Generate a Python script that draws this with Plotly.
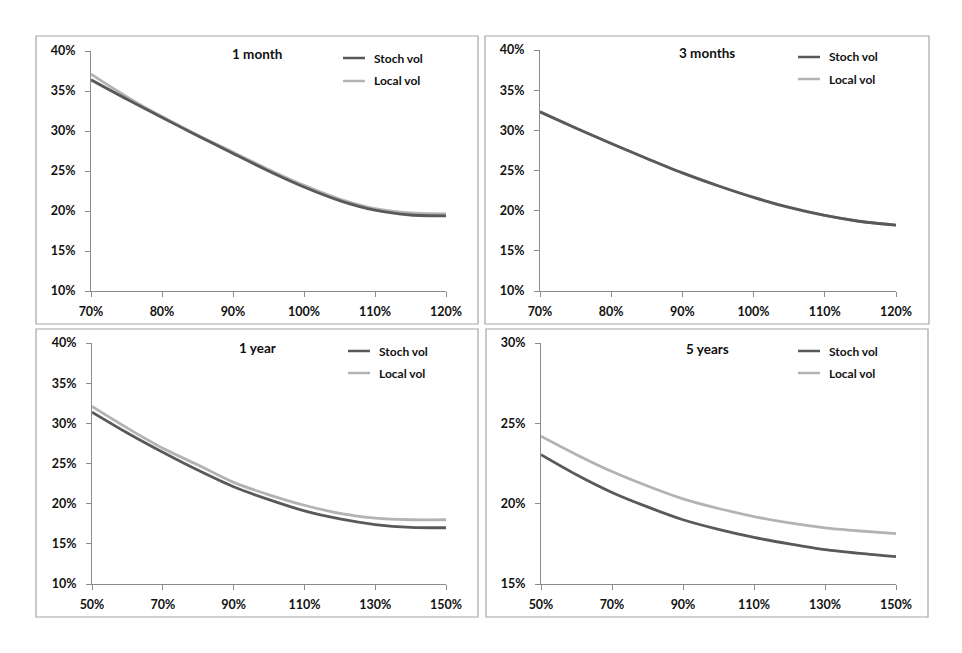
import plotly.graph_objects as go

W, H = 962, 653

# ---------------- data ----------------
m1_x = [0.70, 0.75, 0.80, 0.85, 0.90, 0.95, 1.00, 1.05, 1.10, 1.15, 1.20]
m1_stoch = [0.364, 0.340, 0.317, 0.294, 0.272, 0.250, 0.230, 0.213, 0.201, 0.195, 0.194]
m1_local = [0.371, 0.343, 0.318, 0.295, 0.2735, 0.252, 0.232, 0.215, 0.203, 0.1975, 0.1965]

m3_x = [0.70, 0.75, 0.80, 0.85, 0.90, 0.95, 1.00, 1.05, 1.10, 1.15, 1.20]
m3_stoch = [0.323, 0.303, 0.2835, 0.265, 0.247, 0.231, 0.2165, 0.204, 0.194, 0.1865, 0.182]
m3_local = [0.323, 0.303, 0.2835, 0.265, 0.247, 0.231, 0.2165, 0.204, 0.194, 0.1865, 0.182]

y1_x = [0.50, 0.60, 0.70, 0.80, 0.90, 1.00, 1.10, 1.20, 1.30, 1.40, 1.50]
y1_stoch = [0.314, 0.288, 0.264, 0.2415, 0.221, 0.205, 0.191, 0.181, 0.174, 0.1705, 0.170]
y1_local = [0.321, 0.294, 0.269, 0.248, 0.2265, 0.211, 0.198, 0.188, 0.182, 0.180, 0.180]

y5_x = [0.50, 0.60, 0.70, 0.80, 0.90, 1.00, 1.10, 1.20, 1.30, 1.40, 1.50]
y5_stoch = [0.2305, 0.218, 0.207, 0.198, 0.190, 0.184, 0.179, 0.175, 0.1714, 0.169, 0.167]
y5_local = [0.242, 0.2305, 0.220, 0.211, 0.203, 0.197, 0.192, 0.188, 0.185, 0.183, 0.1813]

titles = ["1 month", "3 months", "1 year", "5 years"]
series_names = ["Stoch vol", "Local vol"]
x_ticks_top = [0.70, 0.80, 0.90, 1.00, 1.10, 1.20]
x_ticks_bottom = [0.50, 0.70, 0.90, 1.10, 1.30, 1.50]
y_ticks_a = [0.10, 0.15, 0.20, 0.25, 0.30, 0.35, 0.40]
y_ticks_b = [0.15, 0.20, 0.25, 0.30]

DARK = "#595959"
LIGHT = "#b3b3b3"
AXC = "#8c8c8c"
FONT = "Lato"

panels = [
    dict(x=m1_x, s=m1_stoch, l=m1_local, xt=x_ticks_top, xr=[0.70, 1.20], yt=y_ticks_a, yr=[0.10, 0.40],
         px=(91, 446), py=(51, 291), box=(36, 36, 478, 324), tx=257, ty=54, lx=343, ly=(58, 81)),
    dict(x=m3_x, s=m3_stoch, l=m3_local, xt=x_ticks_top, xr=[0.70, 1.20], yt=y_ticks_a, yr=[0.10, 0.40],
         px=(540, 896), py=(50, 291), box=(485, 36, 929, 324), tx=707, ty=53, lx=798, ly=(57, 79)),
    dict(x=y1_x, s=y1_stoch, l=y1_local, xt=x_ticks_bottom, xr=[0.50, 1.50], yt=y_ticks_a, yr=[0.10, 0.40],
         px=(92, 446), py=(343, 584), box=(36, 329, 478, 617), tx=257, ty=348, lx=348, ly=(351, 373)),
    dict(x=y5_x, s=y5_stoch, l=y5_local, xt=x_ticks_bottom, xr=[0.50, 1.50], yt=y_ticks_b, yr=[0.15, 0.30],
         px=(541, 896), py=(343, 584), box=(486, 329, 928, 617), tx=707, ty=349, lx=798, ly=(351, 373)),
]

fig = go.Figure()
shapes = []
annotations = []


def pxx(v):
    return v / W


def pxy(v):
    return 1 - v / H


for i, p in enumerate(panels):
    n = "" if i == 0 else str(i + 1)
    xa, ya = "x" + n, "y" + n
    # local first so stoch is drawn on top
    fig.add_trace(go.Scatter(x=p["x"], y=p["l"], mode="lines", name=series_names[1],
                             line=dict(color=LIGHT, width=2.8, shape="spline", smoothing=0.8),
                             xaxis=xa, yaxis=ya, showlegend=False))
    fig.add_trace(go.Scatter(x=p["x"], y=p["s"], mode="lines", name=series_names[0],
                             line=dict(color=DARK, width=2.8, shape="spline", smoothing=0.8),
                             xaxis=xa, yaxis=ya, showlegend=False))
    axcommon = dict(showgrid=False, zeroline=False, showline=True, linecolor=AXC, linewidth=1,
                    ticks="outside", ticklen=5, tickcolor=AXC, tickformat=".0%", automargin=False,
                    tickfont=dict(family=FONT, size=12.5, color="#111111", weight="bold"))
    fig.update_layout({
        "xaxis" + n: dict(domain=[pxx(p["px"][0]), pxx(p["px"][1])], range=p["xr"],
                          tickvals=p["xt"], anchor=ya, ticklabelstandoff=4, **axcommon),
        "yaxis" + n: dict(domain=[pxy(p["py"][1]), pxy(p["py"][0])], range=p["yr"],
                          tickvals=p["yt"], anchor=xa, ticklabelstandoff=7, **axcommon),
    })
    x0, y0, x1, y1 = p["box"]
    shapes.append(dict(type="rect", xref="paper", yref="paper", x0=pxx(x0), x1=pxx(x1),
                       y0=pxy(y1), y1=pxy(y0), line=dict(color="#a6a6a6", width=1.2),
                       fillcolor="rgba(0,0,0,0)", layer="below"))
    annotations.append(dict(text="<b>" + titles[i] + "</b>", xref="paper", yref="paper",
                            x=pxx(p["tx"]), y=pxy(p["ty"]), showarrow=False,
                            xanchor="center", yanchor="middle",
                            font=dict(family=FONT, size=13.5, color="#111111")))
    for k, (nm, col) in enumerate(zip(series_names, [DARK, LIGHT])):
        ly = p["ly"][k]
        shapes.append(dict(type="line", xref="paper", yref="paper", x0=pxx(p["lx"]), x1=pxx(p["lx"] + 22),
                           y0=pxy(ly), y1=pxy(ly), line=dict(color=col, width=2.5)))
        annotations.append(dict(text="<b>" + nm + "</b>", xref="paper", yref="paper",
                                x=pxx(p["lx"] + 29), y=pxy(ly), showarrow=False,
                                xanchor="left", yanchor="middle",
                                font=dict(family=FONT, size=12, color="#111111")))

fig.update_layout(width=W, height=H, margin=dict(l=0, r=0, t=0, b=0, autoexpand=False),
                  paper_bgcolor="white", plot_bgcolor="white", template="none",
                  shapes=shapes, annotations=annotations, showlegend=False)

fig.write_html("out.html")
